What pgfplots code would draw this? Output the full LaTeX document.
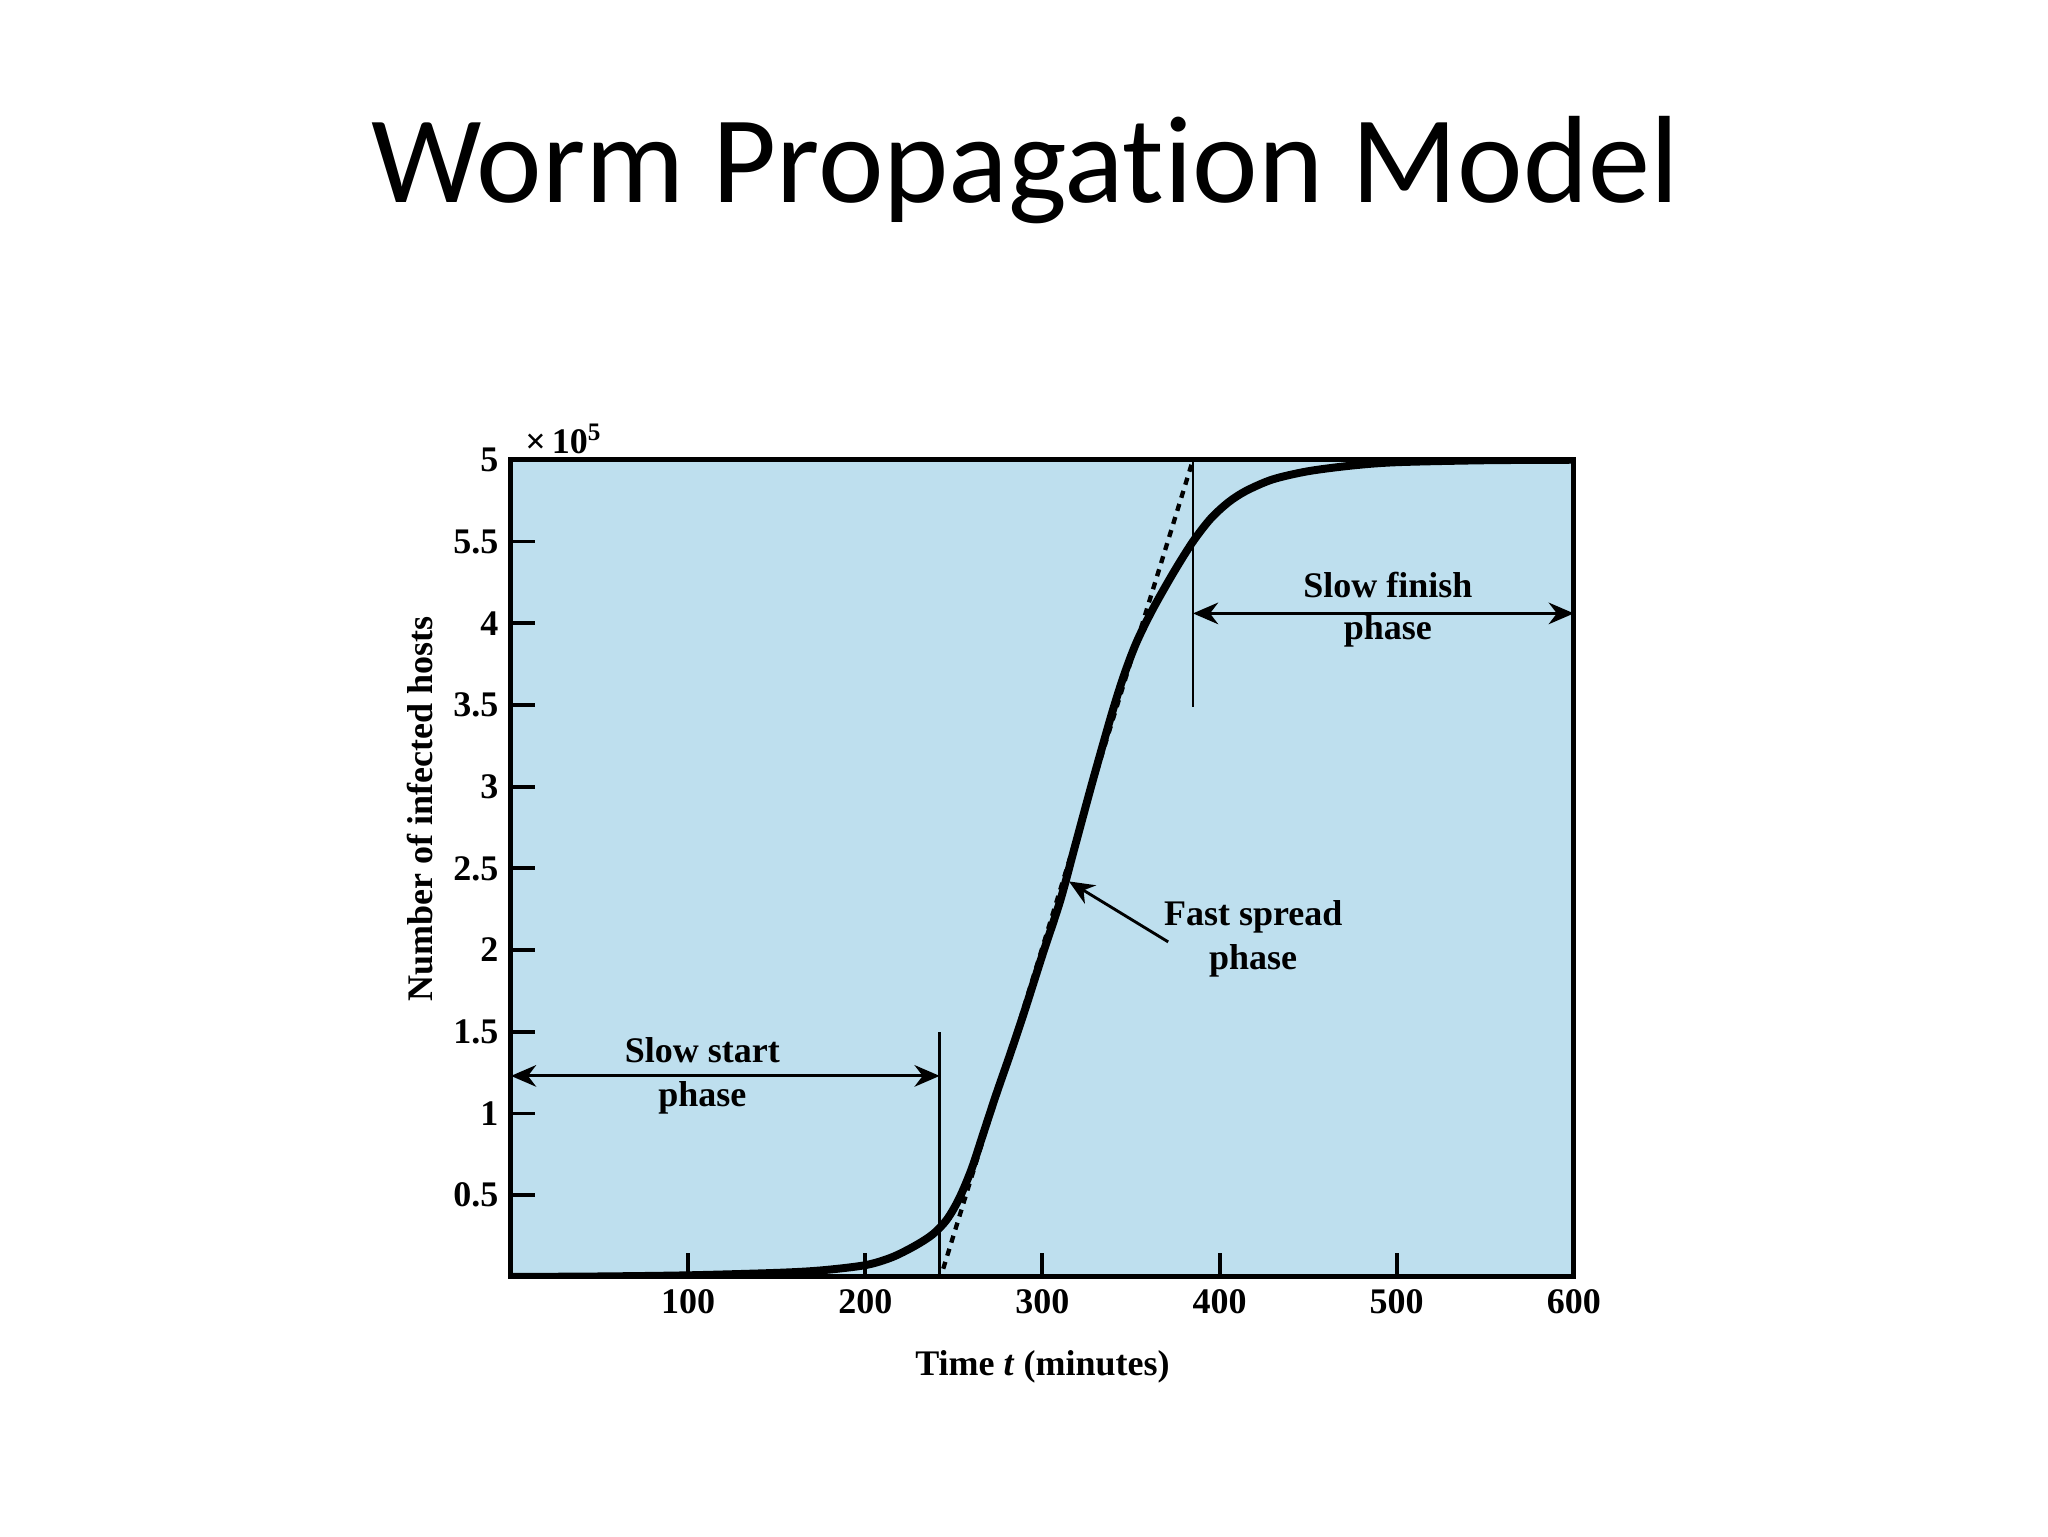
\documentclass[border=0pt]{standalone}
\usepackage{fontspec}
\setmainfont{Liberation Serif}
\newfontfamily\titlefont[Ligatures={NoCommon}]{Carlito}
\usepackage{pgfplots}
\pgfplotsset{compat=1.18}
\usetikzlibrary{arrows.meta}
\definecolor{wormbg}{RGB}{190,223,238}

\begin{document}
\begin{tikzpicture}
\path (0,0) rectangle (20,15);
\node[anchor=base, font=\titlefont\fontsize{34.5}{40}\selectfont] at (10.01,13.02) {Worm Propagation Model};

\begin{axis}[at={(4.99cm,2.53cm)}, anchor=south west,
    width=10.38cm, height=7.98cm, scale only axis,
    xmin=0, xmax=600, ymin=0, ymax=5,
    clip mode=individual,
    axis background/.style={fill=wormbg},
    axis line style={line width=1.4pt, line join=miter},
    xtick={100,200,300,400,500,600},
    ytick={0.5,1,1.5,2,2.5,3,3.5,4,4.5,5},
    yticklabels={0.5,1,1.5,2,2.5,3,3.5,4,5.5,5},
    tick pos=left, tick align=inside,
    major tick length=0.23cm,
    tick style={line width=1.1pt, black},
    /pgf/number format/assume math mode=true,
    ticklabel style={font=\bfseries\fontsize{10}{12}\selectfont},
    label style={font=\bfseries\fontsize{10}{12}\selectfont},
    xlabel={Time \textit{t} (minutes)},
    xlabel style={at={(axis description cs:0.5,0)}, anchor=base, yshift=-0.96cm},
    ylabel={Number of infected hosts},
    ylabel style={at={(axis description cs:-0.0852,0.573)}, anchor=center},
  ]
% infection curve
\addplot[black, line width=2.2pt, smooth] coordinates {
  (0,0.0) (50,0.003) (100,0.010) (150,0.025) (175,0.040) (200,0.072)
  (215,0.12) (228,0.19) (238,0.26) (246,0.35) (253,0.48) (260,0.66)
  (267,0.89) (274,1.12) (282,1.37) (290,1.63) (300,1.97) (310,2.30)
  (318,2.62) (328,3.02) (339,3.44) (346,3.68) (353,3.88) (362,4.08)
  (374,4.31) (385,4.50) (395,4.64) (405,4.74) (415,4.81) (430,4.88)
  (450,4.93) (475,4.965) (500,4.985) (550,4.997) (600,5.0)};
% tangent through the fast spread phase
\addplot[black, line width=1.2pt, dash pattern=on 2pt off 1.8pt] coordinates {(244,0.05) (385,5)};

\draw[line width=0.8pt] (axis cs:242,0) -- (axis cs:242,1.50);
\draw[line width=0.8pt] (axis cs:385,5) -- (axis cs:385,3.49);
\draw[line width=0.8pt, {Stealth[length=7pt,width=6pt]}-{Stealth[length=7pt,width=6pt]}] (axis cs:0,1.23) -- (axis cs:242,1.23);
\draw[line width=0.8pt, {Stealth[length=7pt,width=6pt]}-{Stealth[length=7pt,width=6pt]}] (axis cs:385,4.06) -- (axis cs:600,4.06);
\draw[line width=0.8pt, -{Stealth[length=7pt,width=6pt]}] (axis cs:371,2.05) -- (axis cs:315,2.42);

\begin{scope}[every node/.style={anchor=base, font=\bfseries\fontsize{10}{12}\selectfont}]
\node at (axis cs:108,1.31) {Slow start};
\node at (axis cs:108,1.04) {phase};
\node at (axis cs:495,4.16) {Slow finish};
\node at (axis cs:495,3.90) {phase};
\node at (axis cs:419,2.15) {Fast spread};
\node at (axis cs:419,1.88) {phase};
\node[anchor=base west] at (axis cs:1,5.04) {×\,10\textsuperscript{5}};
\end{scope}
\end{axis}
\end{tikzpicture}
\end{document}
